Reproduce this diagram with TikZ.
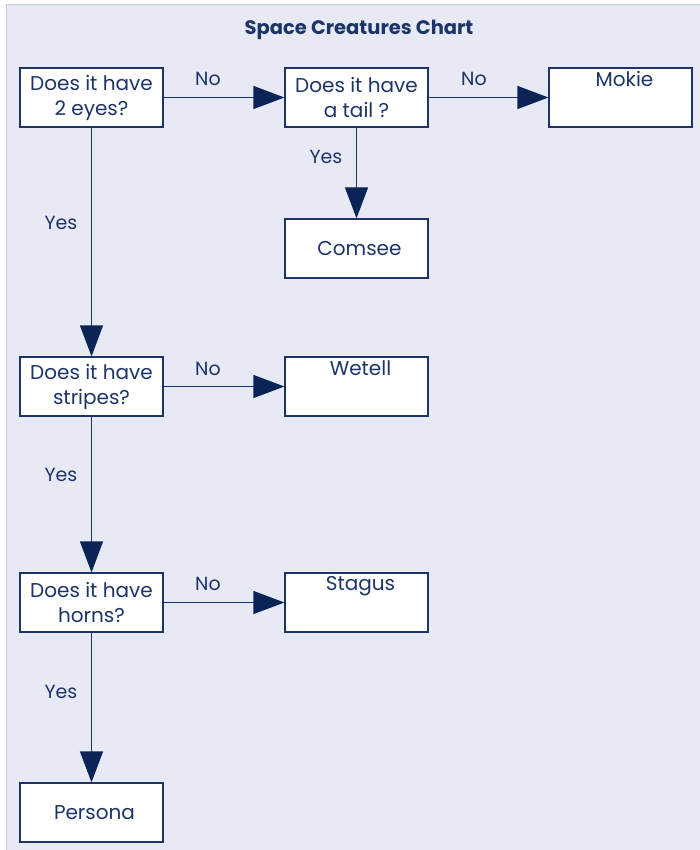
\documentclass[tikz,border=0pt]{standalone}
\usepackage{fontspec}
\setmainfont{Poppins}
\usetikzlibrary{arrows.meta}
\definecolor{bgc}{HTML}{E7EAF4}
\definecolor{framec}{HTML}{C9CCD9}
\definecolor{navy}{HTML}{1C3468}
\definecolor{tipc}{HTML}{0B2457}
\begin{document}
\begin{tikzpicture}[x=1pt,y=-1pt,
  box/.style={draw=navy,line width=1.2pt,fill=white,minimum width=143pt,minimum height=59pt,inner sep=0pt,
    font=\fontsize{20}{25}\selectfont,text=navy,align=center},
  conn/.style={draw=navy,line width=1.2pt,-{Triangle[length=31pt,width=23pt,color=tipc]}},
  lbl/.style={font=\fontsize{19}{24}\selectfont,text=navy},
  toplbl/.style={anchor=north,yshift=-0.5pt,font=\fontsize{20}{25}\selectfont,text=navy}]
\useasboundingbox (0,0) rectangle (700,850);
\fill[white] (0,0) rectangle (700,850);
\fill[bgc] (6,5) rectangle (702,852);
\draw[framec,line width=1pt] (6,852) -- (6,5) -- (702,5);
\node[font=\bfseries\fontsize{19.5}{22}\selectfont,text=navy] (title) at (359,30) {Space Creatures Chart};
\node[box] (q1) at (91.5,97.5) {Does it have\\2 eyes?};
\node[box] (q2) at (356.5,97.5) {Does it have\\a tail ?};
\node[box,label={[toplbl,xshift=4pt]north:Mokie}] (mokie) at (620.5,97.5) {};
\node[box,text width=135pt] (comsee) at (356.5,248.5) {\hspace*{6pt}Comsee};
\node[box] (q3) at (91.5,386.5) {Does it have\\stripes?};
\node[box,label={[toplbl,xshift=4pt]north:Wetell}] (wetell) at (356.5,386.5) {};
\node[box] (q4) at (91.5,602.5) {Does it have\\horns?};
\node[box,label={[toplbl,xshift=4pt]north:Stagus}] (stagus) at (356.5,602.5) {};
\node[box,text width=135pt] (persona) at (91.5,812.5) {\hspace*{6pt}Persona};
\draw[conn] (q1) -- (q2);
\draw[conn] (q2) -- (mokie);
\draw[conn] (q2) -- (comsee);
\draw[conn] (q1) -- (q3);
\draw[conn] (q3) -- (wetell);
\draw[conn] (q3) -- (q4);
\draw[conn] (q4) -- (stagus);
\draw[conn] (q4) -- (persona);
\node[lbl] (n1) at (208,79) {No};
\node[lbl] (n2) at (474,79) {No};
\node[lbl] (y1) at (61,223) {Yes};
\node[lbl] (y2) at (326,157) {Yes};
\node[lbl] (n3) at (208,369) {No};
\node[lbl] (y3) at (61,475) {Yes};
\node[lbl] (n4) at (208,584) {No};
\node[lbl] (y4) at (61,692) {Yes};
\end{tikzpicture}
\end{document}
